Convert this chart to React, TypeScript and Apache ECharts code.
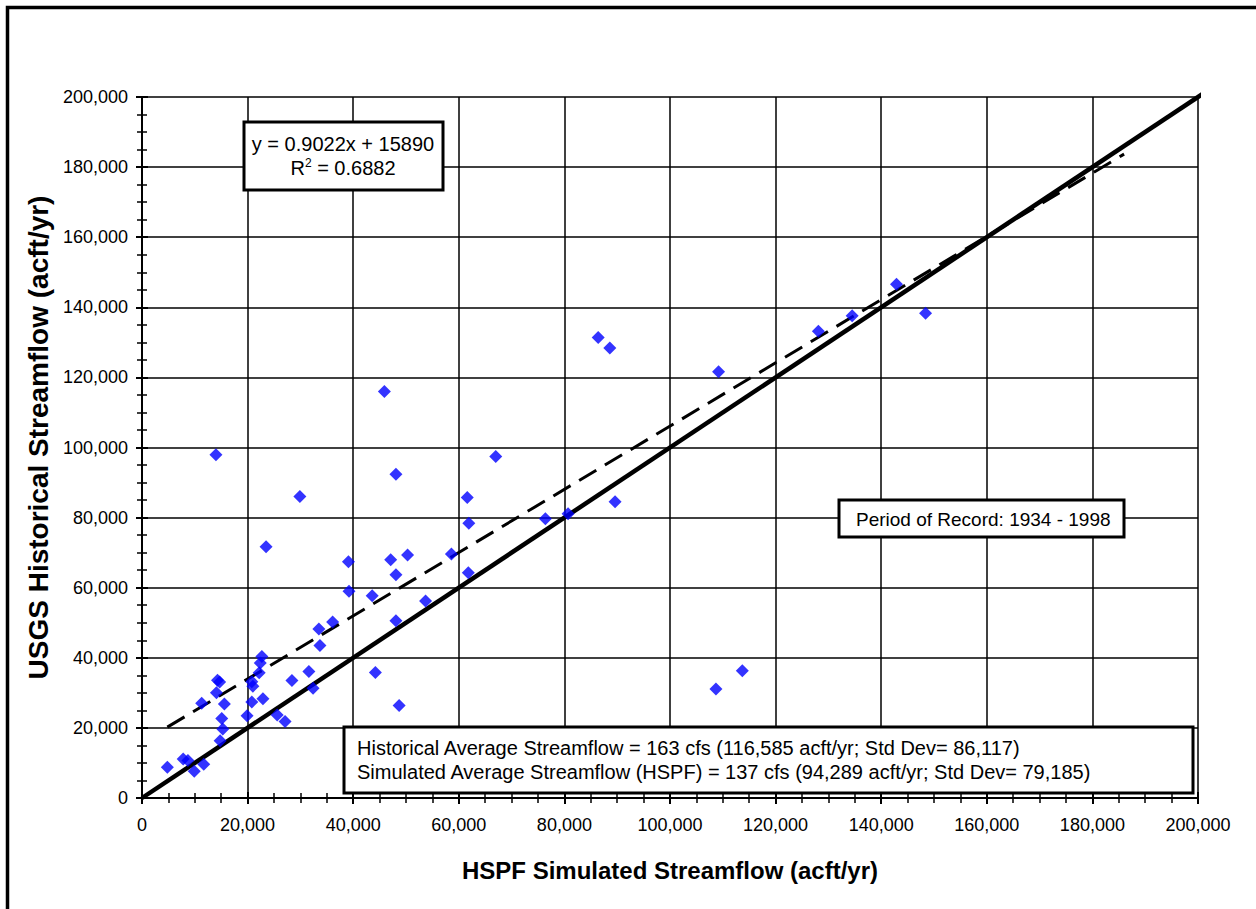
import React, { useEffect, useRef } from "react";
import * as echarts from "echarts";

// HSPF simulated annual streamflow (acft/yr)
const simulated = [
  4800, 7800, 8700, 9900, 11700, 11300, 14100, 14300, 14700, 15600,
  15100, 15300, 14800, 14000, 19900, 20800, 21000, 20800, 22900, 22200,
  22400, 22700, 23500, 25600, 27100, 28400, 29900, 31600, 32400, 33500,
  33700, 36100, 39100, 39200, 43600, 44200, 45900, 47100, 48100, 48100,
  48100, 48700, 50300, 53700, 58600, 61600, 61900, 61800, 67000, 76400,
  80700, 86400, 88600, 89600, 108700, 109200, 113700, 128100, 134500, 142900,
  148400,
];
// USGS historical annual streamflow (acft/yr)
const historical = [
  8800, 11100, 10700, 7600, 9600, 27000, 30000, 33600, 33100, 26800,
  22700, 19700, 16300, 97900, 23500, 27400, 31900, 33200, 28300, 35700,
  38500, 40400, 71700, 23700, 21800, 33500, 86000, 36100, 31300, 48200,
  43500, 50200, 67400, 59000, 57700, 35800, 116000, 68000, 63700, 50600,
  92400, 26400, 69300, 56200, 69600, 85700, 78400, 64300, 97400, 79700,
  81100, 131400, 128400, 84500, 31100, 121600, 36300, 133200, 137600, 146600,
  138300,
];

const axisMin = 0;
const axisMax = 200000;
const axisStep = 20000;

const trendSlope = 0.9022;
const trendIntercept = 15890;
const trendX = [4800, 186000];
const equalityX = [0, 201000];

const equationText = "y = 0.9022x + 15890";
const r2Value = "0.6882";
const periodText = "Period of Record: 1934 - 1998";
const statsLines = [
  "Historical Average Streamflow = 163 cfs (116,585 acft/yr; Std Dev= 86,117)",
  "Simulated Average Streamflow (HSPF) = 137 cfs (94,289 acft/yr; Std Dev= 79,185)",
];

const FONT = "'Liberation Sans', Arial, Helvetica, sans-serif";

export default function App() {
  const ref = useRef<HTMLDivElement>(null);

  useEffect(() => {
    if (!ref.current) return;
    const chart = echarts.init(ref.current, null, { renderer: "svg" });
    const fmt = (v: number) => v.toLocaleString("en-US");

    const tickStyle = { color: "#000", width: 2 };
    const minorStyle = { color: "#000", width: 1.5 };

    const mainAxis = (isX: boolean) => ({
      type: "value",
      min: axisMin,
      max: axisMax,
      interval: axisStep,
      position: isX ? "bottom" : "left",
      name: isX
        ? "HSPF Simulated Streamflow (acft/yr)"
        : "USGS Historical Streamflow (acft/yr)",
      nameLocation: "middle",
      nameGap: isX ? 60 : 88,
      nameTextStyle: {
        fontFamily: FONT,
        fontWeight: "bold",
        fontSize: isX ? 24 : 28,
        color: "#000",
        padding: isX ? 0 : [0, 0, 0, 20],
      },
      axisLine: { show: true, onZero: false, lineStyle: { color: "#000", width: 2 } },
      axisTick: { show: true, length: 6, lineStyle: tickStyle },
      minorTick: { show: true, splitNumber: 4, length: 5, lineStyle: minorStyle },
      splitLine: { show: true, lineStyle: { color: "#000", width: 1.5 } },
      minorSplitLine: { show: false },
      axisLabel: {
        fontFamily: FONT,
        fontSize: 18,
        color: "#000",
        margin: isX ? 18 : 14,
        formatter: fmt,
      },
    });

    const innerAxis = (isX: boolean) => ({
      type: "value",
      min: axisMin,
      max: axisMax,
      interval: axisStep,
      position: isX ? "bottom" : "left",
      axisLine: { show: false, onZero: false },
      axisTick: { show: true, inside: true, length: 6, lineStyle: tickStyle },
      minorTick: { show: true, splitNumber: 4, length: 5, lineStyle: minorStyle },
      splitLine: { show: false },
      axisLabel: { show: false },
    });

    const scatterData = simulated.map((x, i) => [x, historical[i]]);
    const trendData = trendX.map((x) => [x, trendSlope * x + trendIntercept]);
    const equalityData = equalityX.map((x) => [x, x]);

    const Z = 100;
    const boxText = (text: string, x: number, y: number, size: number, align = "left") => ({
      type: "text",
      z: Z + 1,
      x,
      y,
      style: {
        text,
        font: `${size}px ${FONT}`,
        fill: "#000",
        align,
        verticalAlign: "middle",
      },
    });
    const box = (x: number, y: number, width: number, height: number) => ({
      type: "rect",
      z: Z,
      shape: { x, y, width, height },
      style: { fill: "#fff", stroke: "#000", lineWidth: 3 },
    });

    const option: any = {
      animation: false,
      backgroundColor: "#fff",
      grid: { left: 142, right: 58, top: 97, bottom: 111, containLabel: false },
      xAxis: [mainAxis(true), innerAxis(true)],
      yAxis: [mainAxis(false), innerAxis(false)],
      series: [
        {
          type: "line",
          name: "1:1",
          data: equalityData,
          symbol: "none",
          clip: false,
          lineStyle: { color: "#000", width: 4.5 },
          z: 3,
        },
        {
          type: "line",
          name: "Trend",
          data: trendData,
          symbol: "none",
          lineStyle: { color: "#000", width: 3, type: [20, 10] },
          z: 3,
        },
        {
          type: "scatter",
          name: "Annual Streamflow",
          data: scatterData,
          symbol: "diamond",
          symbolSize: 13,
          itemStyle: { color: "#0000ff" },
          z: 4,
        },
      ],
      graphic: [
        {
          type: "rect",
          z: Z,
          shape: { x: 7.5, y: 7.5, width: 1400, height: 1100 },
          style: { fill: "none", stroke: "#000", lineWidth: 3.5 },
        },
        box(244, 122, 199, 68),
        boxText(equationText, 343, 144, 20, "center"),
        {
          type: "text",
          z: Z + 1,
          x: 343,
          y: 168,
          style: {
            text: `{n|R}{s|2}{n| = ${r2Value}}`,
            align: "center",
            verticalAlign: "middle",
            rich: {
              n: { fontFamily: FONT, fontSize: 20, fill: "#000", lineHeight: 22 },
              s: { fontFamily: FONT, fontSize: 12, fill: "#000", verticalAlign: "top", lineHeight: 22 },
            },
          },
        },
        box(839, 500, 285, 37),
        boxText(periodText, 856, 519, 19),
        box(344, 727, 849, 66),
        boxText(statsLines[0], 357, 748, 20),
        boxText(statsLines[1], 357, 772, 20),
      ],
    };

    chart.setOption(option);
    return () => chart.dispose();
  }, []);

  return (
    <div
      ref={ref}
      style={{ position: "fixed", left: 0, top: 0, width: 1256, height: 909, background: "#fff" }}
    />
  );
}
